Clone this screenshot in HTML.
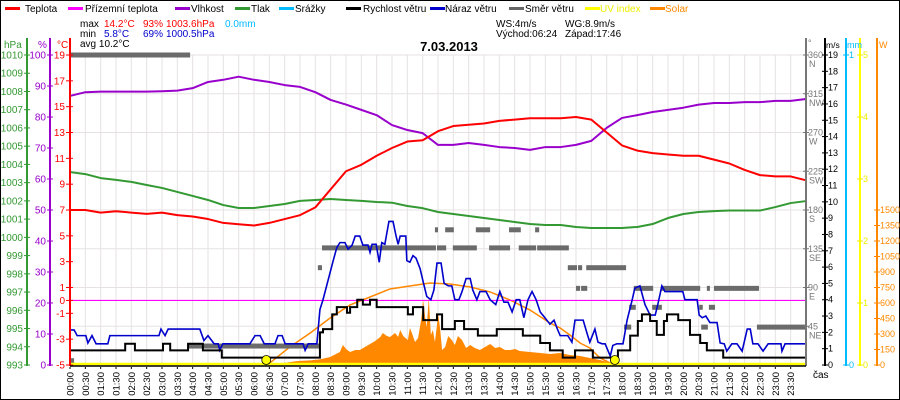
<!DOCTYPE html>
<html><head><meta charset="utf-8">
<style>
html,body{margin:0;padding:0;background:#fff;}
svg{display:block;font-family:"Liberation Sans",sans-serif;}
</style></head>
<body>
<svg id="chart" width="900" height="400" viewBox="0 0 900 400" xmlns="http://www.w3.org/2000/svg">
<rect x="0.5" y="0.5" width="899" height="399" fill="#fff" stroke="#000"/>
<g id="legend" font-size="10">
 <g><rect x="5" y="7" width="15" height="3" fill="#f00"/><text x="25" y="12">Teplota</text></g>
 <g><rect x="68" y="7" width="15" height="3" fill="#f0f"/><text x="85" y="12">Přízemní teplota</text></g>
 <g><rect x="175" y="7" width="15" height="3" fill="#90c"/><text x="191" y="12">Vlhkost</text></g>
 <g><rect x="235" y="7" width="15" height="3" fill="#393"/><text x="251" y="12">Tlak</text></g>
 <g><rect x="279" y="7" width="15" height="3" fill="#0bf"/><text x="295" y="12">Srážky</text></g>
 <g><rect x="346" y="7" width="15" height="3" fill="#000"/><text x="363" y="12">Rychlost větru</text></g>
 <g><rect x="430" y="7" width="15" height="3" fill="#00c"/><text x="445" y="12">Náraz větru</text></g>
 <g><rect x="509" y="7" width="15" height="3" fill="#666"/><text x="525" y="12">Směr větru</text></g>
 <g><rect x="585" y="7" width="15" height="3" fill="#ff0"/><text x="600" y="12" fill="#ee0">UV index</text></g>
 <g><rect x="650" y="7" width="15" height="3" fill="#f80"/><text x="665" y="12" fill="#f80">Solar</text></g>
</g>
<g font-size="10">
 <text x="80" y="27">max</text><text x="104" y="27" fill="#f00">14.2°C</text><text x="143" y="27" fill="#f00">93%</text><text x="166" y="27" fill="#f00">1003.6hPa</text><text x="225" y="27" fill="#0bf">0.0mm</text>
 <text x="80" y="37">min</text><text x="104" y="37" fill="#00c">5.8°C</text><text x="143" y="37" fill="#00c">69%</text><text x="166" y="37" fill="#00c">1000.5hPa</text>
 <text x="80" y="47">avg 10.2°C</text>
 <text x="496" y="27">WS:4m/s</text><text x="565" y="27">WG:8.9m/s</text>
 <text x="496" y="37">Východ:06:24</text><text x="565" y="37">Západ:17:46</text>
</g>
<text x="449" y="51" font-size="13" font-weight="bold" text-anchor="middle">7.03.2013</text>
<g id="grid"></g>
<g id="marks"></g>
<g id="axes"></g>
</svg>
<script>
// ---- data ----
const halfHourIdx = [0,1,2,3,4,5,6,7,8,9,10,11,12,13,14,15,16,17,18,19,20,21,22,23,24,25,26,27,28,29,30,31,32,33,34,35,36,37,38,39,40,41,42,43,44,45,46,47,48];
const temperature = [7.0,7.0,6.8,6.9,6.8,6.7,6.8,6.6,6.5,6.3,6.0,5.9,5.8,6.0,6.3,6.6,7.2,8.6,10.0,10.5,11.2,11.8,12.3,12.4,13.1,13.5,13.6,13.7,13.9,14.0,14.1,14.1,14.1,14.2,14.0,13.0,12.0,11.6,11.4,11.3,11.2,11.2,10.9,10.6,10.1,9.7,9.6,9.6,9.3];
const humidity = [86.8,88,88.2,88.2,88.2,88.2,88.3,88.5,89.3,91.3,92,93,92,91.3,90.3,89.7,88,85.5,84,82.3,80.6,77.4,75.8,74.8,71,71,71.6,71,70.3,70,69.4,70.3,70.3,71,72.3,76.5,79.7,80.6,81.6,82.3,83,84,84.5,84.5,84.8,84.8,85.2,85.2,85.8];
const pressure = [1003.58,1003.47,1003.25,1003.15,1003.04,1002.87,1002.71,1002.49,1002.27,1002.05,1001.77,1001.61,1001.61,1001.72,1001.83,1002.0,1002.05,1002.1,1002.05,1002.0,1001.94,1001.9,1001.72,1001.6,1001.39,1001.28,1001.17,1001.06,1000.95,1000.84,1000.73,1000.68,1000.68,1000.57,1000.51,1000.51,1000.51,1000.57,1000.73,1001.06,1001.28,1001.39,1001.44,1001.47,1001.47,1001.47,1001.66,1001.88,1001.99];
const windT = [0,108,127,182,196,231,260,297,489,495,513,522,542,548,562,573,587,600,661,671,691,718,728,753,771,798,835,886,920,939,964,988,1023,1072,1096,1111,1119,1135,1148,1162,1168,1190,1213,1233,1246,1278];
const windV = [0.9,1.3,0.9,1.3,0.9,1.3,0.9,0.45,2.0,2.2,3.1,3.55,3.2,3.55,4.0,3.7,4.0,3.55,3.1,3.55,2.75,3.1,2.2,2.7,2.2,1.8,2.2,1.8,1.35,0.9,0.45,0.9,0.45,0.9,1.8,2.7,3.1,2.7,1.85,2.7,3.1,2.75,1.85,1.35,0.9,0.45];
const gustT = [0,8,14,31,35,43,51,74,78,174,178,186,192,254,262,270,282,290,293,299,352,362,372,380,401,407,415,421,456,460,466,483,489,495,505,515,522,528,538,544,552,558,567,573,583,587,591,599,605,610,616,624,632,638,642,646,657,659,665,671,677,685,691,698,706,712,718,726,732,740,747,753,761,767,775,783,788,796,802,814,822,833,841,849,857,865,873,880,888,896,904,912,920,929,939,947,953,959,974,982,988,1004,1012,1017,1027,1033,1041,1047,1057,1062,1070,1082,1090,1100,1105,1115,1125,1135,1145,1150,1158,1164,1199,1203,1227,1231,1237,1244,1252,1266,1272,1280,1285,1295,1305,1315,1325,1331,1336,1346,1356,1366,1391,1393,1399,1440];
const gustV = [2.15,2.15,1.8,1.8,1.35,1.8,1.3,1.3,1.8,1.8,2.2,1.8,2.2,2.2,1.5,1.8,1.3,1.3,0.9,1.3,1.3,1.8,1.8,1.3,1.3,1.8,1.8,1.3,1.3,0.9,1.3,1.3,3.4,4.0,5.2,6.4,7.2,7.5,7.5,7.1,7.35,7.9,7.9,7.35,7.35,6.9,7.4,7.4,6.3,7.5,7.4,8.8,8.8,7.9,7.4,7.9,7.9,6.4,6.3,6.7,6.55,5.9,5.1,4.2,4.0,4.6,6.25,6.25,5.0,4.85,4.85,4.0,4.0,4.5,5.3,5.3,4.6,4.0,4.5,4.5,4.0,3.7,4.5,3.85,3.85,3.25,4.0,4.0,2.9,4.0,4.5,4.0,3.25,2.9,2.5,2.75,2.25,1.8,1.8,1.4,2.75,2.75,1.9,1.4,2.2,1.4,1.3,1.3,0.55,1.2,1.3,1.3,2.75,4.0,4.7,4.85,3.7,3.06,3.06,3.7,4.85,4.5,4.5,4.0,4.0,3.06,2.9,3.0,2.6,2.6,1.35,1.3,0.85,1.3,1.3,0.85,2.2,2.2,1.3,1.3,0.85,1.3,1.3,0.85,1.3,1.3];
const dirStart = [0,0,231,485,493,718,749,820,878,914,714,734,794,859,910,974,994,1010,990,1000,1103,1156,1246,1260,1094,1139,1231,1250,1084,1235,1344];
const dirEnd   = [235,8,489,493,716,736,796,861,912,976,720,751,822,882,918,992,1002,1088,998,1012,1141,1233,1252,1348,1107,1158,1238,1262,1098,1248,1440];
const dirVal   = [360,5,22,113,136,136,136,136,136,136,157,157,157,157,157,113,113,113,89,89,89,89,89,89,67,67,67,67,44,44,44];
const solarT = [383,411,440,450,470,489,509,528,534,540,548,558,567,577,587,597,607,612,620,626,636,642,646,652,661,665,669,675,681,687,691,695,698,702,704,706,710,714,718,720,724,728,734,740,747,753,759,767,775,783,792,802,812,822,832,841,851,861,871,880,900,920,939,959,978,998,1017,1037,1057,1066];
const solarW = [0,15,35,40,45,55,77,126,194,155,126,145,145,174,203,232,271,310,281,271,310,271,339,281,242,358,310,223,261,436,629,455,368,649,474,290,339,223,387,503,358,145,174,281,242,194,281,242,165,194,165,145,174,203,165,174,145,145,155,136,126,116,106,116,97,87,68,48,19,0];
const clearT = [383,391,430,470,509,548,587,626,665,704,743,783,822,861,900,939,959,978,998,1017,1037,1057,1066];
const clearW = [0,19,174,310,455,581,658,736,765,794,784,755,707,629,532,407,358,290,213,165,68,19,0];
const sunEvents = [384,1066];
const pressTicks = [993,994,995,996,997,998,999,1000,1001,1002,1003,1004,1005,1006,1007,1008,1009,1010];
const humTicks = [0,10,20,30,40,50,60,70,80,90,100];
const tempTicks = [19,17,15,13,11,9,7,5,3,1,0,-1,-3,-5];
const dirTicks = [360,315,270,225,180,135,90,45];
const dirNames = ["N","NW","W","SW","S","SE","E","NE"];
const msTicks = [0,1,2,3,4,5,6,7,8,9,10,11,12,13,14,15,16,17,18,19];
const uvTicks = [0,1,2,3,4,5];
const wTicks = [0,150,300,450,600,750,900,1050,1200,1350,1500];

// ---- scales ----
const X0=70, X1=806, Y0=55, Y1=365;
const xM = m => X0 + m*(X1-X0)/1440;
const yT = t => Y0 + (19-t)*(Y1-Y0)/24;
const yH = h => Y1 - h*(Y1-Y0)/100;
const yP = p => Y1 - (p-993)*(Y1-Y0)/17;
const yV = v => Y1 - v*(Y1-Y0)/19;
const yD = d => Y1 - d*(Y1-Y0)/360;
const yS = w => Y1 - w*155/1500;
const yU = u => Y1 - u*(Y1-Y0)/5;

const NS="http://www.w3.org/2000/svg";
function mk(tag, attrs, parent){const e=document.createElementNS(NS,tag);for(const k in attrs)e.setAttribute(k,attrs[k]);parent.appendChild(e);return e;}
const grid=document.getElementById('grid'), marks=document.getElementById('marks'), axes=document.getElementById('axes');

for(let i=0;i<=48;i++){const x=xM(i*30);const l=mk('line',{x1:x,y1:Y0,x2:x,y2:Y1,stroke:'#e6e2e2','stroke-width':1},grid);

}
for(let k=0;k<=8;k++){const y=Y0+k*(Y1-Y0)/8;const l=mk('line',{x1:X0,y1:y,x2:X1,y2:y,stroke:'#e6e2e2','stroke-width':1},grid);

}

{let d='M'+xM(solarT[0])+','+Y1;solarT.forEach((t,i)=>{d+=' L'+xM(t)+','+yS(solarW[i]);});d+=' L'+xM(solarT[solarT.length-1])+','+Y1+' Z';
const e=mk('path',{d:d,fill:'#f80'},marks);

}
{const pts=clearT.map((t,i)=>xM(t)+','+yS(clearW[i])).join(' ');
const e=mk('polyline',{points:pts,fill:'none',stroke:'#f80','stroke-width':1.5},marks);

}
{const e=mk('line',{x1:X0,y1:yT(0),x2:X1,y2:yT(0),stroke:'#f0f','stroke-width':1.2},marks);

}
dirVal.forEach((d,i)=>{const y=yD(d);const e=mk('rect',{x:xM(dirStart[i]),y:y-2.5,width:Math.max(3,xM(dirEnd[i])-xM(dirStart[i])),height:5,fill:'#6b6b6b'},marks);

});
function line(vals,yf,color,w){const pts=vals.map((v,i)=>xM(halfHourIdx[i]*30)+','+yf(v)).join(' ');
return mk('polyline',{points:pts,fill:'none',stroke:color,'stroke-width':w,'stroke-linejoin':'round'},marks);}
{const e=line(pressure,yP,'#393',2);

}
{const e=line(humidity,yH,'#90c',2);

}
{const e=line(temperature,yT,'#f00',2);

}
{const pts=gustT.map((t,i)=>xM(t)+','+yV(gustV[i])).join(' ');
const e=mk('polyline',{points:pts,fill:'none',stroke:'#00c','stroke-width':1.6},marks);

}
{let pts=[];windT.forEach((t,i)=>{const x=xM(t);if(i>0)pts.push(x+','+yV(windV[i-1]));pts.push(x+','+yV(windV[i]));});pts.push(X1+','+yV(windV[windV.length-1]));
const e=mk('polyline',{points:pts.join(' '),fill:'none',stroke:'#000','stroke-width':2},marks);

}
{const e=mk('line',{x1:X0,y1:Y1-1,x2:X1,y2:Y1-1,stroke:'#ff0','stroke-width':2.5},marks);

}
sunEvents.forEach(m=>{const e=mk('circle',{cx:xM(m),cy:Y1-5,r:4.5,fill:'#ff0',stroke:'#000','stroke-width':0.8},marks);

});

function vaxis(x,color,name){const e=mk('line',{x1:x,y1:38,x2:x,y2:Y1+1,stroke:color,'stroke-width':2},axes);

}
function label(x,y,txt,color,anchor,name,size){const t=mk('text',{x:x,y:y,fill:color,'text-anchor':anchor,'font-size':size||10},axes);t.textContent=txt;

return t;}
function tick(x1,x2,y,color){mk('line',{x1:x1,y1:y,x2:x2,y2:y,stroke:color,'stroke-width':1},axes);}
vaxis(27,'#393','pressure-axis');
vaxis(50,'#90c','humidity-axis');
vaxis(70,'#f00','temperature-axis');
label(4,48,'hPa','#393','start','pressure-axis-title');
label(38,48,'%','#90c','start','humidity-axis-title');
label(57,48,'°C','#f00','start','temperature-axis-title');
pressTicks.forEach(p=>{const y=yP(p);tick(24,30,y,'#393');label(23,y+3.5,String(p),'#393','end','pressure-tick-label');});
humTicks.forEach(h=>{const y=yH(h);tick(47,53,y,'#90c');label(46,y+3.5,String(h),'#90c','end','humidity-tick-label');});
tempTicks.forEach(t=>{const y=yT(t);tick(66,73,y,'#f00');label(65,y+3.5,String(t),'#f00','end','temperature-tick-label');});
vaxis(806,'#777','wind-direction-axis');
vaxis(825,'#000','wind-speed-axis');
vaxis(846,'#0bf','rain-axis');
vaxis(860,'#ff0','uv-axis');
vaxis(877,'#f80','solar-axis');
label(808,46,'°','#777','start','wind-direction-axis-title',9);
label(826,48,'m/s','#000','start','wind-speed-axis-title',8.5);
label(847,48,'mm','#0bf','start','rain-axis-title',9);
label(879,48,'W','#f80','start','solar-axis-title',9);
dirTicks.forEach((d,i)=>{const y=yD(d);tick(803,809,y,'#777');label(808,y+3,String(d),'#777','start','wind-direction-tick-label',9);label(809,y+12,dirNames[i],'#777','start','wind-direction-name',9);});
msTicks.forEach(v=>{const y=yV(v);tick(822,828,y,'#000');label(828,y+3,String(v),'#000','start','wind-speed-tick-label',9);});
[0,1].forEach(v=>{const y=Y1-v*(Y1-Y0);tick(843,849,y,'#0bf');label(849,y+3,String(v),'#0bf','start','rain-tick-label',9);});
uvTicks.forEach(u=>{const y=yU(u);tick(857,863,y,'#ee0');label(863,y+3,String(u),'#ee0','start','uv-tick-label',9);});
wTicks.forEach(w=>{const y=yS(w);tick(874,880,y,'#f80');label(880,y+3,String(w),'#f80','start','solar-tick-label',9);});
{const e=mk('line',{x1:X0,y1:Y1+1,x2:X1,y2:Y1+1,stroke:'#000','stroke-width':1.5},axes);

}
for(let i=0;i<48;i++){const x=xM(i*30);mk('line',{x1:x,y1:367,x2:x,y2:369,stroke:'#000'},axes);
const h=String(Math.floor(i/2)).padStart(2,'0')+':'+(i%2?'30':'00');
const t=mk('text',{x:0,y:0,'font-size':9.5,'text-anchor':'end',transform:'translate('+(x+3.5)+',372) rotate(-90)'},axes);t.textContent=h;

}
label(813,378,'čas','#000','start','x-axis-title');
</script>
</body></html>
